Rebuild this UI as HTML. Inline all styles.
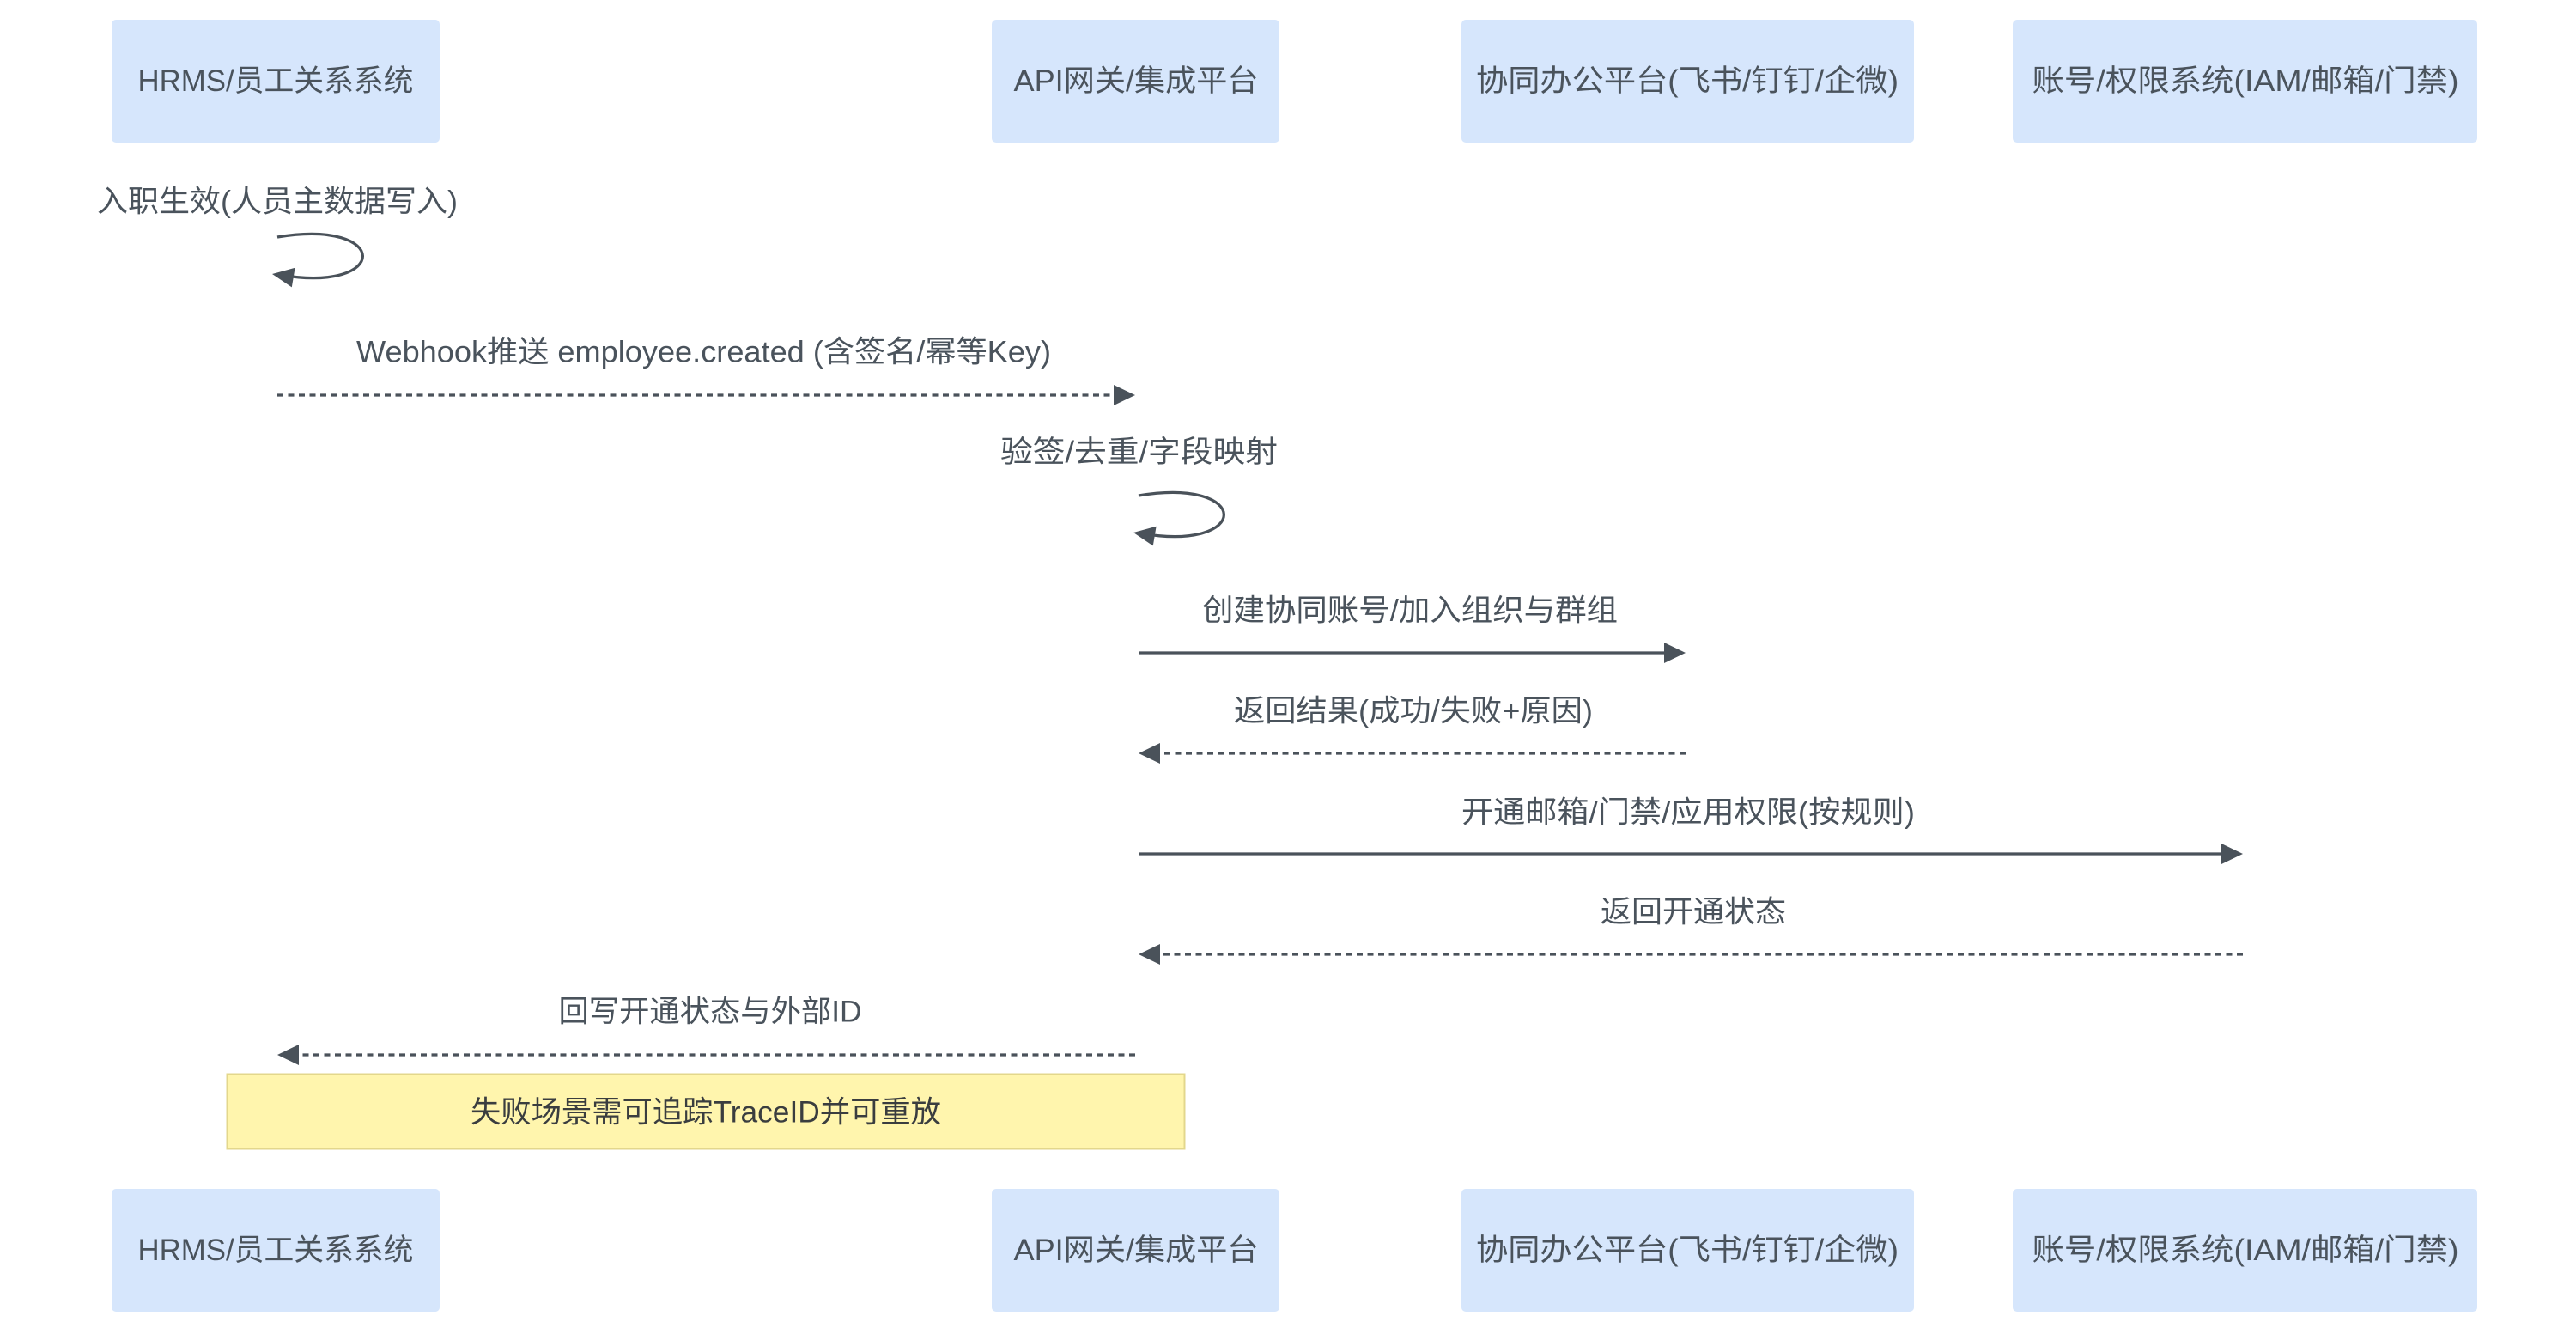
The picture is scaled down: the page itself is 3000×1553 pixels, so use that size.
<!DOCTYPE html>
<html>
<head>
<meta charset="utf-8">
<style>
html,body{margin:0;padding:0;background:#ffffff;}
svg{display:block;}
text{font-family:"Liberation Sans","Noto Sans CJK SC",sans-serif;font-size:35.2px;fill:#4a535c;}
.note{fill:#3a3d3f;}
</style>
</head>
<body>
<svg width="3000" height="1553" viewBox="0 0 3000 1553" xmlns="http://www.w3.org/2000/svg">
  <rect x="0" y="0" width="3000" height="1553" fill="#ffffff"/>

  <!-- Top actor boxes -->
  <rect x="130" y="23" width="382" height="143" rx="5" fill="#d6e6fc"/>
  <rect x="1155" y="23" width="335" height="143" rx="5" fill="#d6e6fc"/>
  <rect x="1702" y="23" width="527" height="143" rx="5" fill="#d6e6fc"/>
  <rect x="2344" y="23" width="541" height="143" rx="5" fill="#d6e6fc"/>
  <text x="321" y="94.5" text-anchor="middle" dominant-baseline="central" textLength="321" lengthAdjust="spacingAndGlyphs">HRMS/员工关系系统</text>
  <text x="1323" y="94.5" text-anchor="middle" dominant-baseline="central" textLength="285" lengthAdjust="spacingAndGlyphs">API网关/集成平台</text>
  <text x="1965" y="94.5" text-anchor="middle" dominant-baseline="central" textLength="492" lengthAdjust="spacingAndGlyphs">协同办公平台(飞书/钉钉/企微)</text>
  <text x="2615" y="94.5" text-anchor="middle" dominant-baseline="central" textLength="497" lengthAdjust="spacingAndGlyphs">账号/权限系统(IAM/邮箱/门禁)</text>

  <!-- Bottom actor boxes -->
  <rect x="130" y="1384" width="382" height="143" rx="5" fill="#d6e6fc"/>
  <rect x="1155" y="1384" width="335" height="143" rx="5" fill="#d6e6fc"/>
  <rect x="1702" y="1384" width="527" height="143" rx="5" fill="#d6e6fc"/>
  <rect x="2344" y="1384" width="541" height="143" rx="5" fill="#d6e6fc"/>
  <text x="321" y="1455.5" text-anchor="middle" dominant-baseline="central" textLength="321" lengthAdjust="spacingAndGlyphs">HRMS/员工关系系统</text>
  <text x="1323" y="1455.5" text-anchor="middle" dominant-baseline="central" textLength="285" lengthAdjust="spacingAndGlyphs">API网关/集成平台</text>
  <text x="1965" y="1455.5" text-anchor="middle" dominant-baseline="central" textLength="492" lengthAdjust="spacingAndGlyphs">协同办公平台(飞书/钉钉/企微)</text>
  <text x="2615" y="1455.5" text-anchor="middle" dominant-baseline="central" textLength="497" lengthAdjust="spacingAndGlyphs">账号/权限系统(IAM/邮箱/门禁)</text>

  <g stroke="#4a525a" stroke-width="3.3" fill="none">
    <!-- self loop HRMS -->
    <path d="M 323,276 C 455,254 455,342 326,320"/>
    <!-- webhook dashed -->
    <line x1="323" y1="460" x2="1300" y2="460" stroke-dasharray="7,5.5"/>
    <!-- self loop API -->
    <path d="M 1326,577 C 1458,555 1458,643 1329,621"/>
    <!-- create account solid -->
    <line x1="1326" y1="760" x2="1942" y2="760"/>
    <!-- return result dashed -->
    <line x1="1963" y1="877" x2="1346" y2="877" stroke-dasharray="7,5.5"/>
    <!-- provision solid -->
    <line x1="1326" y1="994" x2="2590" y2="994"/>
    <!-- return status dashed -->
    <line x1="2612" y1="1111" x2="1346" y2="1111" stroke-dasharray="7,5.5"/>
    <!-- write back dashed -->
    <line x1="1322" y1="1228" x2="344" y2="1228" stroke-dasharray="7,5.5"/>
  </g>

  <g fill="#4a525a">
    <polygon points="317,319 343.6,311.8 339.8,334.4"/>
    <polygon points="1322,460 1297,448 1297,472"/>
    <polygon points="1320,620 1346.6,612.8 1342.8,635.4"/>
    <polygon points="1963,760 1938,748 1938,772"/>
    <polygon points="1326,877 1351,865 1351,889"/>
    <polygon points="2612,994 2587,982 2587,1006"/>
    <polygon points="1326,1111 1351,1099 1351,1123"/>
    <polygon points="323,1228 348,1216 348,1240"/>
  </g>

  <!-- message labels -->
  <text x="323" y="235" text-anchor="middle" dominant-baseline="central" textLength="420" lengthAdjust="spacingAndGlyphs">入职生效(人员主数据写入)</text>
  <text x="819.5" y="410" text-anchor="middle" dominant-baseline="central" textLength="809" lengthAdjust="spacingAndGlyphs">Webhook推送 employee.created (含签名/幂等Key)</text>
  <text x="1326.5" y="526.5" text-anchor="middle" dominant-baseline="central" textLength="323" lengthAdjust="spacingAndGlyphs">验签/去重/字段映射</text>
  <text x="1642" y="711" text-anchor="middle" dominant-baseline="central" textLength="484" lengthAdjust="spacingAndGlyphs">创建协同账号/加入组织与群组</text>
  <text x="1646" y="828" text-anchor="middle" dominant-baseline="central" textLength="418" lengthAdjust="spacingAndGlyphs">返回结果(成功/失败+原因)</text>
  <text x="1966" y="946" text-anchor="middle" dominant-baseline="central" textLength="528" lengthAdjust="spacingAndGlyphs">开通邮箱/门禁/应用权限(按规则)</text>
  <text x="1972" y="1062" text-anchor="middle" dominant-baseline="central" textLength="216" lengthAdjust="spacingAndGlyphs">返回开通状态</text>
  <text x="827" y="1178" text-anchor="middle" dominant-baseline="central" textLength="353" lengthAdjust="spacingAndGlyphs">回写开通状态与外部ID</text>

  <!-- note -->
  <rect x="264.5" y="1250.5" width="1115" height="87" fill="#fff5ad" stroke="#e3d78c" stroke-width="2"/>
  <text class="note" x="822" y="1295" text-anchor="middle" dominant-baseline="central" textLength="548" lengthAdjust="spacingAndGlyphs">失败场景需可追踪TraceID并可重放</text>
</svg>
</body>
</html>
